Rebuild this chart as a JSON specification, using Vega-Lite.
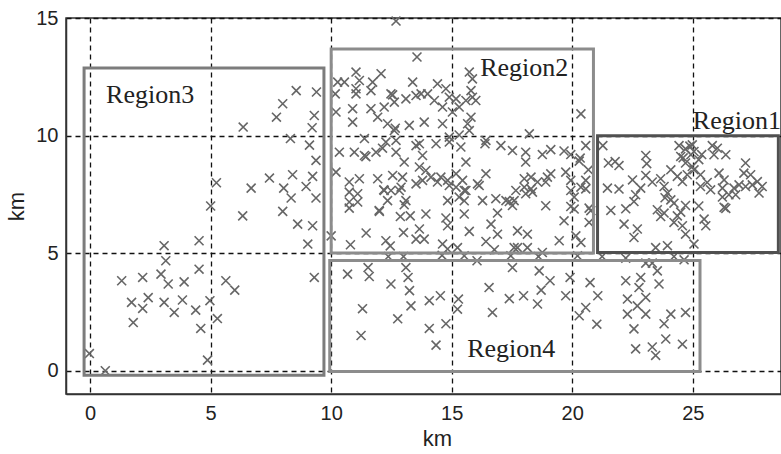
{
  "$schema": "https://vega.github.io/schema/vega-lite/v6.json",
  "width": 715,
  "height": 376,
  "autosize": {"type": "none"},
  "padding": {"left": 66, "top": 18, "right": 0, "bottom": 60},
  "background": "white",
  "config": {
    "view": {"stroke": "#333", "strokeWidth": 1.5},
    "axis": {
      "grid": true, "gridDash": [5, 4], "gridColor": "#111", "gridWidth": 1.3,
      "ticks": false, "domainColor": "#333", "domainWidth": 1.5,
      "labelFont": "Liberation Sans", "labelFontSize": 20, "labelColor": "#222",
      "labelPadding": 9,
      "titleFont": "Liberation Sans", "titleFontSize": 22, "titleFontWeight": "normal", "titleColor": "#222"
    }
  },
  "datasets": {
    "regions": [
      {"name": "Region1", "x1": 21.05, "x2": 28.55, "y1": 5.02, "y2": 9.99},
      {"name": "Region2", "x1": 10.0, "x2": 20.88, "y1": 5.0, "y2": 13.68},
      {"name": "Region3", "x1": -0.25, "x2": 9.7, "y1": -0.2, "y2": 12.87},
      {"name": "Region4", "x1": 9.94, "x2": 25.3, "y1": -0.04, "y2": 4.68}
    ],
    "labels": [
      {"name": "Region1", "lx": 26.83, "ly": 10.26},
      {"name": "Region2", "lx": 18.01, "ly": 12.53},
      {"name": "Region3", "lx": 2.49, "ly": 11.39},
      {"name": "Region4", "lx": 17.47, "ly": 0.57}
    ],
    "points": [
      {"x":5.0,"y":7.0},{"x":6.33,"y":6.58},{"x":3.07,"y":5.31},{"x":4.52,"y":5.52},{"x":3.14,"y":4.67},{"x":4.52,"y":4.31},{"x":1.31,"y":3.82},{"x":2.18,"y":3.96},{"x":2.94,"y":4.1},{"x":3.24,"y":3.68},{"x":3.9,"y":3.77},{"x":5.63,"y":3.82},{"x":6.0,"y":3.42},{"x":1.72,"y":2.9},{"x":2.41,"y":3.1},{"x":2.18,"y":2.64},{"x":3.07,"y":2.9},{"x":3.83,"y":3.0},{"x":3.49,"y":2.47},{"x":4.38,"y":2.57},{"x":4.97,"y":2.97},{"x":5.28,"y":2.21},{"x":1.79,"y":2.04},{"x":4.59,"y":1.79},{"x":-0.03,"y":0.72},{"x":0.63,"y":-0.01},{"x":4.87,"y":0.44},
      {"x":6.35,"y":10.36},{"x":5.24,"y":7.99},{"x":8.55,"y":11.91},{"x":9.39,"y":11.85},{"x":7.99,"y":11.35},{"x":7.73,"y":10.78},{"x":9.3,"y":10.85},{"x":9.21,"y":10.33},{"x":8.31,"y":9.87},{"x":9.1,"y":9.59},{"x":9.37,"y":8.94},{"x":7.44,"y":8.19},{"x":8.4,"y":8.33},{"x":9.23,"y":8.26},{"x":6.68,"y":7.76},{"x":8.03,"y":7.76},{"x":8.34,"y":7.34},{"x":8.96,"y":7.83},{"x":9.37,"y":7.34},{"x":7.99,"y":6.77},{"x":8.61,"y":6.23},{"x":9.23,"y":6.16},{"x":9.03,"y":5.38},{"x":9.3,"y":3.96},
      {"x":10.68,"y":4.1},{"x":11.53,"y":4.38},{"x":11.58,"y":4.0},{"x":12.48,"y":3.68},{"x":13.1,"y":4.38},{"x":13.19,"y":3.96},{"x":13.25,"y":3.4},{"x":13.31,"y":2.75},{"x":11.3,"y":2.63},{"x":12.76,"y":2.2},{"x":11.24,"y":1.49},
      {"x":17.52,"y":4.38},{"x":18.63,"y":4.24},{"x":19.08,"y":3.82},{"x":19.91,"y":3.96},{"x":20.74,"y":3.74},{"x":16.55,"y":3.53},{"x":18.71,"y":3.42},{"x":17.98,"y":3.18},{"x":17.39,"y":3.06},{"x":18.56,"y":2.83},{"x":19.73,"y":3.18},{"x":15.28,"y":3.04},{"x":15.24,"y":2.61},{"x":16.69,"y":2.47},{"x":14.53,"y":3.18},{"x":14.07,"y":2.97},{"x":14.76,"y":1.99},{"x":14.07,"y":1.79},{"x":14.35,"y":1.08},{"x":20.56,"y":2.68},{"x":20.29,"y":2.33},{"x":21.02,"y":1.97},{"x":21.06,"y":3.18},
      {"x":22.22,"y":3.82},{"x":22.84,"y":3.96},{"x":22.77,"y":3.53},{"x":23.53,"y":4.24},{"x":23.6,"y":3.68},{"x":22.29,"y":3.04},{"x":23.05,"y":3.11},{"x":22.7,"y":2.75},{"x":22.29,"y":2.4},{"x":23.05,"y":2.4},{"x":22.56,"y":1.77},{"x":23.81,"y":1.99},{"x":24.09,"y":2.4},{"x":24.7,"y":2.47},{"x":23.88,"y":1.34},{"x":22.63,"y":0.92},{"x":23.32,"y":1.0},{"x":23.46,"y":0.64},{"x":24.57,"y":1.12},
      {"x":12.37,"y":4.85},{"x":13.0,"y":4.85},{"x":14.6,"y":4.9},{"x":15.52,"y":4.88},{"x":16.05,"y":4.67},{"x":17.45,"y":4.88},{"x":18.6,"y":4.85},{"x":20.22,"y":4.88},{"x":21.24,"y":4.85},{"x":22.22,"y":4.78},{"x":24.22,"y":4.85},{"x":24.64,"y":4.71},{"x":23.05,"y":4.57},{"x":23.32,"y":4.57},
      {"x":21.27,"y":9.57},{"x":21.5,"y":8.83},{"x":21.78,"y":8.89},{"x":21.94,"y":8.72},{"x":21.46,"y":7.76},{"x":21.94,"y":7.72},{"x":21.6,"y":6.81},{"x":22.22,"y":6.88},{"x":22.5,"y":8.11},{"x":22.84,"y":7.76},{"x":22.63,"y":7.48},{"x":22.56,"y":7.19},{"x":23.05,"y":9.15},{"x":23.09,"y":8.8},{"x":23.05,"y":8.3},{"x":23.32,"y":8.02},{"x":23.67,"y":8.16},{"x":23.81,"y":7.83},{"x":23.95,"y":7.55},{"x":24.09,"y":7.26},{"x":23.53,"y":6.84},{"x":23.81,"y":6.7},{"x":24.22,"y":7.12},{"x":24.5,"y":6.74},{"x":24.7,"y":7.02},{"x":24.43,"y":9.57},{"x":24.7,"y":9.43},{"x":24.5,"y":9.11},{"x":24.92,"y":9.18},{"x":24.7,"y":8.83},{"x":24.98,"y":8.68},{"x":24.77,"y":8.33},{"x":24.09,"y":8.54},{"x":24.36,"y":8.26},{"x":24.57,"y":8.04},{"x":25.05,"y":9.32},{"x":25.25,"y":8.97},{"x":25.05,"y":8.54},{"x":25.32,"y":8.33},{"x":25.81,"y":9.57},{"x":26.02,"y":9.46},{"x":26.37,"y":9.18},{"x":25.88,"y":9.18},{"x":25.32,"y":7.83},{"x":25.6,"y":8.0},{"x":25.74,"y":7.69},{"x":26.09,"y":8.4},{"x":26.3,"y":8.11},{"x":26.23,"y":7.76},{"x":26.23,"y":7.38},{"x":26.5,"y":7.48},{"x":26.71,"y":7.76},{"x":26.37,"y":6.9},{"x":27.19,"y":8.83},{"x":27.12,"y":8.4},{"x":27.4,"y":8.33},{"x":26.92,"y":7.9},{"x":27.19,"y":7.83},{"x":27.47,"y":7.9},{"x":27.68,"y":8.04},{"x":27.88,"y":7.83},{"x":27.75,"y":7.55},{"x":26.78,"y":7.48},{"x":24.98,"y":9.6},{"x":24.88,"y":9.55},{"x":24.6,"y":9.05},{"x":25.37,"y":9.19},{"x":23.85,"y":7.35},
      {"x":22.15,"y":6.23},{"x":22.7,"y":6.02},{"x":22.56,"y":5.66},{"x":23.67,"y":6.55},{"x":24.36,"y":6.58},{"x":24.22,"y":6.3},{"x":24.57,"y":6.16},{"x":24.7,"y":5.8},{"x":25.05,"y":5.38},{"x":25.25,"y":7.0},{"x":25.47,"y":6.44},{"x":25.54,"y":6.16},{"x":26.3,"y":6.94},{"x":23.46,"y":5.23},{"x":23.95,"y":5.31},
      {"x":12.69,"y":14.87},{"x":13.56,"y":13.34},{"x":11.03,"y":12.7},{"x":11.17,"y":12.34},{"x":11.03,"y":11.77},{"x":10.27,"y":12.27},{"x":10.55,"y":12.27},{"x":11.03,"y":11.99},{"x":11.72,"y":12.27},{"x":12.07,"y":12.63},{"x":11.65,"y":11.91},{"x":12.48,"y":11.77},{"x":12.62,"y":11.42},{"x":13.1,"y":11.56},{"x":13.38,"y":12.27},{"x":13.52,"y":11.7},{"x":10.17,"y":11.77},{"x":10.2,"y":11.0},{"x":10.89,"y":11.14},{"x":10.89,"y":10.57},{"x":11.65,"y":11.14},{"x":11.93,"y":10.78},{"x":12.2,"y":11.21},{"x":12.34,"y":10.5},{"x":12.62,"y":10.21},{"x":13.24,"y":10.43},{"x":11.38,"y":9.87},{"x":12.27,"y":9.72},{"x":12.69,"y":9.79},{"x":10.34,"y":9.29},{"x":10.96,"y":9.29},{"x":11.38,"y":9.15},{"x":11.86,"y":9.29},{"x":12.69,"y":9.29},{"x":13.52,"y":9.57},{"x":13.03,"y":8.87},{"x":10.2,"y":8.44},{"x":10.75,"y":8.02},{"x":11.17,"y":8.16},{"x":11.93,"y":8.16},{"x":12.55,"y":8.3},{"x":12.96,"y":8.23},{"x":12.9,"y":7.8},{"x":13.52,"y":7.94},{"x":10.75,"y":7.59},{"x":11.1,"y":7.52},{"x":12.2,"y":7.66},{"x":12.48,"y":7.66},{"x":12.83,"y":7.66},{"x":12.34,"y":7.23},{"x":13.1,"y":7.23},{"x":10.75,"y":7.17},{"x":11.1,"y":7.17},
      {"x":12.55,"y":11.73},{"x":12.66,"y":10.31},{"x":12.13,"y":9.46},{"x":11.44,"y":9.1},{"x":12.18,"y":7.69},{"x":11.99,"y":6.81},{"x":10.75,"y":6.91},
      {"x":15.73,"y":12.7},{"x":15.86,"y":12.41},{"x":14.41,"y":12.2},{"x":14.76,"y":11.99},{"x":13.73,"y":11.77},{"x":14.0,"y":11.77},{"x":14.28,"y":11.49},{"x":14.62,"y":11.21},{"x":15.18,"y":11.56},{"x":15.31,"y":11.21},{"x":15.59,"y":11.49},{"x":15.86,"y":11.63},{"x":16.0,"y":11.49},{"x":15.8,"y":11.91},{"x":14.9,"y":11.63},{"x":13.86,"y":10.57},{"x":14.62,"y":10.5},{"x":15.66,"y":10.5},{"x":15.8,"y":10.78},{"x":15.03,"y":11.0},{"x":14.9,"y":9.93},{"x":15.31,"y":10.02},{"x":15.73,"y":10.21},{"x":20.36,"y":10.92},{"x":18.22,"y":10.07},{"x":13.66,"y":9.65},{"x":14.35,"y":9.65},{"x":14.9,"y":9.72},{"x":15.38,"y":9.51},{"x":16.38,"y":9.65},{"x":16.42,"y":9.79},{"x":17.04,"y":9.57},{"x":17.52,"y":9.36},{"x":18.07,"y":9.29},{"x":18.07,"y":8.87},{"x":18.76,"y":9.19},{"x":19.11,"y":9.4},{"x":19.66,"y":9.34},{"x":19.94,"y":9.19},{"x":20.29,"y":8.91},{"x":20.56,"y":9.57},{"x":13.79,"y":9.15},{"x":13.66,"y":8.66},{"x":13.93,"y":8.51},{"x":13.79,"y":8.09},{"x":14.14,"y":8.23},{"x":14.41,"y":8.02},{"x":14.55,"y":8.23},{"x":14.83,"y":8.09},{"x":14.9,"y":7.87},{"x":15.59,"y":8.87},{"x":15.18,"y":8.37},{"x":15.45,"y":8.09},{"x":15.18,"y":7.8},{"x":15.52,"y":7.66},{"x":16.42,"y":8.37},{"x":16.14,"y":7.87},{"x":18.01,"y":8.16},{"x":18.29,"y":8.23},{"x":18.56,"y":8.02},{"x":18.01,"y":7.8},{"x":18.29,"y":7.73},{"x":18.97,"y":8.23},{"x":19.11,"y":8.37},{"x":18.9,"y":8.02},{"x":19.73,"y":8.44},{"x":19.94,"y":8.09},{"x":20.56,"y":8.09},{"x":20.36,"y":7.8},{"x":15.59,"y":7.66},{"x":15.31,"y":7.38},{"x":14.83,"y":7.23},{"x":16.28,"y":7.23},{"x":16.83,"y":7.31},{"x":17.25,"y":7.23},{"x":17.66,"y":7.66},{"x":17.59,"y":7.23},{"x":18.07,"y":7.52},{"x":18.35,"y":7.59},{"x":17.52,"y":7.02},{"x":16.07,"y":7.94},{"x":19.94,"y":7.66},{"x":20.08,"y":7.38},{"x":20.56,"y":7.73},
      {"x":15.52,"y":7.22},{"x":17.39,"y":7.19},{"x":18.9,"y":7.01},{"x":19.94,"y":6.98},{"x":20.08,"y":6.87},
      {"x":13.93,"y":6.66},{"x":14.76,"y":6.49},{"x":14.83,"y":6.16},{"x":15.52,"y":6.66},{"x":16.9,"y":6.7},{"x":16.63,"y":6.23},{"x":16.9,"y":5.8},{"x":15.73,"y":5.92},{"x":16.42,"y":5.49},{"x":16.77,"y":5.14},{"x":17.73,"y":5.94},{"x":18.14,"y":5.8},{"x":17.73,"y":5.23},{"x":18.14,"y":5.23},{"x":18.76,"y":5.02},{"x":19.46,"y":5.52},{"x":19.66,"y":6.37},{"x":20.15,"y":5.73},{"x":20.36,"y":5.45},{"x":20.77,"y":6.8},{"x":20.7,"y":6.3},{"x":13.66,"y":6.02},{"x":13.86,"y":5.59},{"x":14.62,"y":5.38},{"x":14.83,"y":5.17},{"x":15.24,"y":5.23},{"x":17.59,"y":5.23},
      {"x":12.0,"y":6.77},{"x":11.45,"y":5.85},{"x":10.0,"y":5.73},{"x":12.27,"y":5.52},{"x":12.45,"y":5.3},{"x":13.0,"y":5.87},{"x":13.52,"y":5.59},{"x":13.03,"y":7.05},{"x":12.87,"y":6.55},{"x":13.28,"y":6.58},{"x":10.8,"y":5.35},
      {"x":20.33,"y":9.04},{"x":20.67,"y":8.54},{"x":20.7,"y":6.91}
    ]
  },
  "layer": [
    {
      "data": {"name": "points"},
      "mark": {"type": "point", "shape": "M-1,-1L1,1M-1,1L1,-1", "filled": false, "stroke": "#666", "strokeWidth": 1.6, "size": 80, "opacity": 1},
      "encoding": {
        "x": {"field": "x", "type": "quantitative", "scale": {"domain": [-1, 28.66], "nice": false, "zero": false},
              "axis": {"values": [0, 5, 10, 15, 20, 25], "title": "km", "titlePadding": 5, "titleX": 371}},
        "y": {"field": "y", "type": "quantitative", "scale": {"domain": [-1, 15], "nice": false, "zero": false},
              "axis": {"values": [0, 5, 10, 15], "title": "km", "labelPadding": 8, "titlePadding": 7}}
      }
    },
    {
      "data": {"name": "regions"},
      "mark": {"type": "rect", "filled": false, "strokeWidth": 3},
      "encoding": {
        "x": {"field": "x1", "type": "quantitative"},
        "x2": {"field": "x2"},
        "y": {"field": "y1", "type": "quantitative"},
        "y2": {"field": "y2"},
        "stroke": {"field": "name", "type": "nominal", "legend": null,
                   "scale": {"domain": ["Region1", "Region2", "Region3", "Region4"], "range": ["#505050", "#8c8c8c", "#7c7c7c", "#8c8c8c"]}}
      }
    },
    {
      "data": {"name": "labels"},
      "mark": {"type": "text", "font": "Liberation Serif", "fontSize": 26, "color": "#222", "align": "center", "baseline": "alphabetic"},
      "encoding": {
        "x": {"field": "lx", "type": "quantitative"},
        "y": {"field": "ly", "type": "quantitative"},
        "text": {"field": "name"}
      }
    }
  ]
}
